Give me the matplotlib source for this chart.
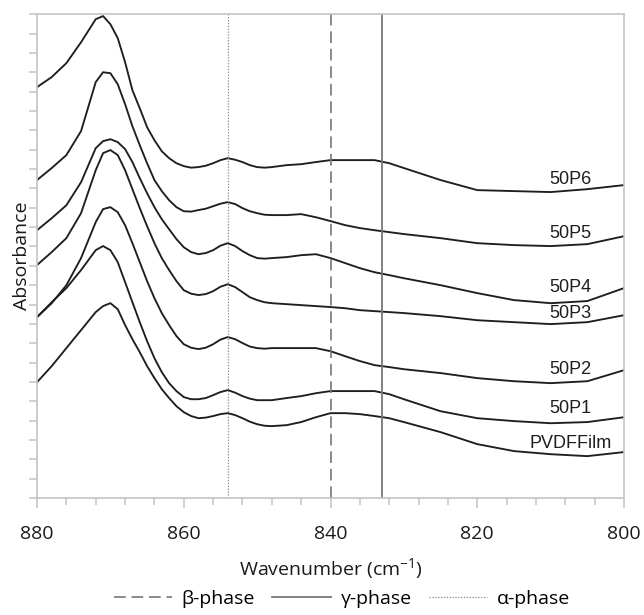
import numpy as np
import matplotlib
matplotlib.use("Agg")
import matplotlib.pyplot as plt
from matplotlib.ticker import MultipleLocator, NullFormatter

plt.rcParams['font.family'] = ['Open Sans', 'DejaVu Sans']
plt.rcParams['mathtext.fontset'] = 'custom'
plt.rcParams['mathtext.rm'] = 'Open Sans'
plt.rcParams['mathtext.default'] = 'regular'

# ---------------- data (absorbance, offset spectra, a.u.) ----------------
wavenumber = [880, 878, 876, 874, 872, 871, 870, 869, 868,
              867, 866, 865, 864, 863, 862, 861, 860, 859, 858, 857, 856, 855, 854, 853, 852, 851, 850, 849,
              848, 846, 844, 842, 840, 838, 836, 834, 832, 830, 825, 820, 815, 810, 805, 800]

p6 = [21.23, 21.75, 22.47, 23.55, 24.74, 24.90, 24.48, 23.76, 22.52,
      21.07, 20.14, 19.16, 18.49, 17.92, 17.56, 17.30, 17.15, 17.07, 17.10, 17.17, 17.30, 17.46, 17.56,
      17.48, 17.36, 17.20, 17.10, 17.07,
      17.10, 17.20, 17.25, 17.36, 17.46, 17.46, 17.46, 17.46, 17.30, 17.05, 16.43, 15.91, 15.86, 15.81,
      15.96, 16.17]
p5 = [16.43, 17.05, 17.72, 18.96, 21.49, 22.00, 21.95, 21.38, 20.35,
      19.21, 18.23, 17.30, 16.43, 15.86, 15.39, 15.03, 14.82, 14.80, 14.88, 14.95, 15.08, 15.21, 15.29,
      15.19, 14.98, 14.82, 14.72, 14.64,
      14.62, 14.62, 14.67, 14.51, 14.31, 14.10, 13.95, 13.84, 13.74, 13.64, 13.43, 13.17, 13.07, 13.02,
      13.12, 13.53]
p4 = [13.84, 14.46, 15.13, 16.32, 18.08, 18.44, 18.54, 18.39, 18.03,
      17.36, 16.53, 15.75, 15.03, 14.41, 13.89, 13.38, 12.96, 12.71, 12.60, 12.66, 12.81, 13.04, 13.17,
      13.02, 12.76, 12.55, 12.40, 12.37,
      12.40, 12.45, 12.55, 12.60, 12.40, 12.14, 11.88, 11.67, 11.52, 11.36, 11.00, 10.59, 10.23, 10.07,
      10.18, 10.85]
p3 = [12.04, 12.71, 13.43, 14.72, 16.94, 17.82, 17.98, 17.72, 16.94,
      15.96, 14.98, 14.05, 13.17, 12.40, 11.78, 11.21, 10.74, 10.56, 10.49, 10.54, 10.69, 10.92, 11.05,
      10.90, 10.64, 10.38, 10.23, 10.12,
      10.07, 10.02, 9.97, 9.92, 9.87, 9.81, 9.71, 9.66, 9.61, 9.56, 9.40, 9.19, 9.09, 8.99,
      9.09, 9.45]
p2 = [9.35, 10.07, 11.00, 12.40, 14.26, 14.93, 15.03, 14.77, 14.10,
      13.17, 12.19, 11.21, 10.33, 9.56, 8.94, 8.37, 7.95, 7.77, 7.70, 7.77, 7.95, 8.19, 8.32,
      8.21, 8.01, 7.83, 7.75, 7.72,
      7.75, 7.75, 7.75, 7.75, 7.59, 7.33, 7.08, 6.87, 6.77, 6.66, 6.46, 6.20, 6.04, 5.94,
      6.04, 6.61]
p1 = [9.35, 10.12, 10.85, 11.78, 12.81, 13.02, 12.81, 12.19, 11.16,
      10.12, 9.09, 8.11, 7.23, 6.51, 5.94, 5.53, 5.22, 5.11, 5.11, 5.17, 5.32, 5.48, 5.58,
      5.45, 5.27, 5.14, 5.06, 5.06,
      5.06, 5.17, 5.27, 5.42, 5.53, 5.53, 5.53, 5.53, 5.37, 5.11, 4.49, 4.13, 3.98, 3.87,
      3.93, 4.18]
pvdf = [5.99, 6.82, 7.75, 8.68, 9.61, 9.92, 10.07, 9.76, 8.94,
        8.21, 7.54, 6.82, 6.20, 5.63, 5.17, 4.75, 4.44, 4.24, 4.13, 4.16, 4.24, 4.34, 4.39,
        4.29, 4.13, 3.95, 3.82, 3.74,
        3.72, 3.77, 3.93, 4.18, 4.39, 4.39, 4.34, 4.24, 4.13, 3.93, 3.41, 2.79, 2.43, 2.27,
        2.17, 2.38]

series_names = ["50P6", "50P5", "50P4", "50P3", "50P2", "50P1", "PVDFFilm"]
label_y = [16.48, 13.69, 10.90, 9.56, 6.66, 4.65, 2.84]
label_x = 807.3

# characteristic band positions (cm-1)
beta_pos = 840
gamma_pos = 833
alpha_pos = 854

# ---------------- figure ----------------
fig = plt.figure(figsize=(6.44, 6.15), dpi=100)
ax = fig.add_axes([0.0575, 0.190, 0.9115, 0.787])

for ys in [p6, p5, p4, p3, p2, p1, pvdf]:
    ax.plot(wavenumber, ys, color='#1e1e1e', lw=1.35, solid_joinstyle='round')

for name, ly in zip(series_names, label_y):
    ax.text(label_x, ly, name, ha='center', va='center', fontsize=13,
            family='Liberation Sans', color='#1e1e1e')

gray = '#777777'
h_beta = ax.axvline(beta_pos, color=gray, lw=1.2, linestyle=(0, (7, 3.5)), label='β-phase')
h_gamma = ax.axvline(gamma_pos, color=gray, lw=1.3, label='γ-phase')
h_alpha = ax.axvline(alpha_pos, color='#888888', lw=0.9, linestyle=(0, (1, 1.3)), label='α-phase')

ax.set_xlim(880, 800)
ax.set_ylim(0, 25)
ax.xaxis.set_major_locator(MultipleLocator(20))
ax.xaxis.set_minor_locator(MultipleLocator(4))
ax.yaxis.set_major_locator(MultipleLocator(1))
ax.yaxis.set_major_formatter(NullFormatter())

for s in ax.spines.values():
    s.set_color('#c4c4c4')
    s.set_linewidth(1.2)
ax.tick_params(axis='x', which='major', length=7, width=1.1, color='#c4c4c4',
               labelsize=14, pad=12, labelcolor='#1a1a1a')
ax.tick_params(axis='x', which='minor', length=5, width=1.1, color='#c4c4c4')
ax.tick_params(axis='y', which='major', length=6, width=1.1, color='#c4c4c4')

ax.set_xlabel('Wavenumber (cm$^{-1}$)', fontsize=14, labelpad=10, color='#1a1a1a')
ax.set_ylabel('Absorbance', fontsize=14, labelpad=-5, color='#1a1a1a')

fig.legend(handles=[h_beta, h_gamma, h_alpha], loc='center', ncol=3,
           bbox_to_anchor=(0.531, 0.026), frameon=False, fontsize=14,
           handlelength=3.0, handletextpad=0.5, columnspacing=0.9)

fig.savefig('out.png', dpi=100)
